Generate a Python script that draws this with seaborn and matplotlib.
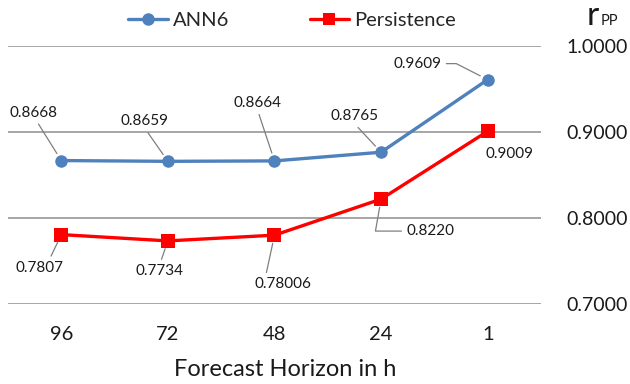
import matplotlib
matplotlib.use("Agg")
import matplotlib.pyplot as plt
import seaborn as sns
import pandas as pd

# Forecast horizons (hours) and correlation coefficients r_PP
horizons = ["96", "72", "48", "24", "1"]
ann6 = [0.8668, 0.8659, 0.8664, 0.8765, 0.9609]
persistence = [0.7807, 0.7734, 0.78006, 0.8220, 0.9009]
ann6_labels = ["0.8668", "0.8659", "0.8664", "0.8765", "0.9609"]
pers_labels = ["0.7807", "0.7734", "0.78006", "0.8220", "0.9009"]
y_ticks = [0.7, 0.8, 0.9, 1.0]

df = pd.DataFrame({
    "Horizon": horizons * 2,
    "r": ann6 + persistence,
    "Model": ["ANN6"] * len(horizons) + ["Persistence"] * len(horizons),
})

sns.set_theme(style="white")
plt.rcParams["font.family"] = ["Lato", "DejaVu Sans"]
TXT = "#1a1a1a"

fig = plt.figure(figsize=(6.3, 3.84), dpi=100)
ax = fig.add_axes([0.0127, 0.2083, 0.8460, 0.6719])

palette = {"ANN6": "#4F81BD", "Persistence": "#FF0000"}
markers = {"ANN6": "o", "Persistence": "s"}
sns.lineplot(data=df, x="Horizon", y="r", hue="Model", style="Model",
             markers=markers, dashes=False, palette=palette, ax=ax,
             linewidth=2.4, markersize=9, markeredgewidth=0, sort=False)
ax.lines[0].set_markersize(9)
ax.lines[1].set_markersize(9.5)

ax.set_xlim(-0.5, len(horizons) - 0.5)
ax.set_ylim(0.7, 1.0)
ax.set_yticks(y_ticks)
ax.set_yticklabels([f"{v:.4f}" for v in y_ticks])
ax.yaxis.tick_right()
ax.grid(axis="y", color="#A6A6A6", linewidth=1.4)
ax.grid(axis="x", visible=False)
for s in ax.spines.values():
    s.set_visible(False)
ax.tick_params(axis="x", length=0, pad=16, labelsize=14.5, labelcolor=TXT)
ax.tick_params(axis="y", length=0, pad=18, labelsize=14, labelcolor=TXT)
ax.set_xlabel("Forecast Horizon in h", fontsize=17, color=TXT, va="center")
ax.xaxis.set_label_coords(0.52, -0.255)
ax.set_ylabel("")
ax.set_axisbelow(True)

# r_PP title above the right-hand axis
fig.text(0.931, 0.935, "r", fontsize=24, color=TXT, ha="left", va="baseline")
fig.text(0.954, 0.935, "PP", fontsize=10.5, color=TXT, ha="left", va="baseline")

leg = ax.legend(loc="center", bbox_to_anchor=(0.533, 1.10), ncol=2, frameon=False,
                fontsize=14.5, handlelength=1.95, columnspacing=4.0,
                handletextpad=0.25, borderaxespad=0)
leg.set_title(None)

# Data labels with leader lines (offsets in pixels from the data point)
lead = dict(arrowstyle="-", color="#7F7F7F", lw=0.9, shrinkA=1, shrinkB=6)
lab = dict(textcoords="offset pixels", ha="center", va="center",
           fontsize=11, color=TXT)

ann_off = [(-28, 48), (-23, 40), (-17, 58), (-27, 36), (-70, 16)]
ann_rel = [(0.55, 0), (0.5, 0), (0.5, 0), (0.5, 0), (1, 0.5)]
ann_conn = ["arc3", "arc3", "arc3", "arc3", "angle,angleA=0,angleB=-27,rad=0"]
for i, (v, t) in enumerate(zip(ann6, ann6_labels)):
    ax.annotate(t, xy=(i, v), xytext=ann_off[i],
                arrowprops=dict(lead, relpos=ann_rel[i], connectionstyle=ann_conn[i]),
                **lab)

pers_off = [(-22, -33), (-8, -30), (8, -49), (49, -32), (22, -23)]
pers_rel = [(0.7, 1), (0.5, 1), (0.2, 1), (0, 0.5), None]
pers_conn = ["arc3", "arc3", "arc3", "angle,angleA=0,angleB=80,rad=0", None]
for i, (v, t) in enumerate(zip(persistence, pers_labels)):
    kw = dict(lab)
    if pers_rel[i] is not None:
        kw["arrowprops"] = dict(lead, relpos=pers_rel[i], connectionstyle=pers_conn[i])
    ax.annotate(t, xy=(i, v), xytext=pers_off[i], **kw)

fig.savefig("out.png", dpi=100)
